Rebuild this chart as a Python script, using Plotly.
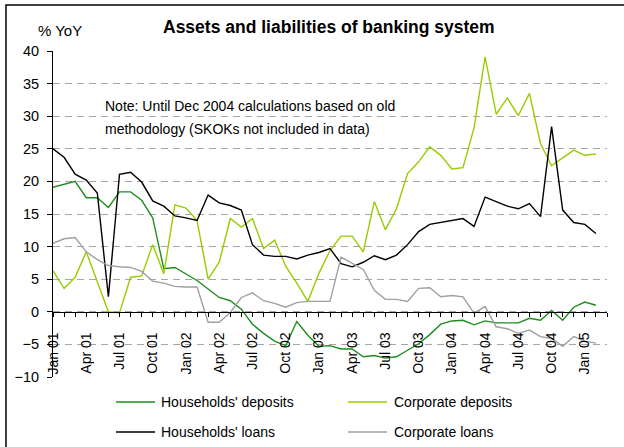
import pandas as pd
import plotly.graph_objects as go

# Monthly observations, Jan 2001 - Feb 2005 (% year on year)
months = list(pd.date_range("2001-01-01", periods=50, freq="MS").strftime("%b %y"))

households_deposits = [
    19.1, 19.5, 20.0, 17.5, 17.5, 16.0, 18.4, 18.4, 17.1, 14.4,
    6.6, 6.8, 5.8, 4.8, 3.5, 2.2, 1.7, 0.4, -1.9, -3.3,
    -4.5, -5.2, -1.5, -3.6, -5.3, -5.2, -5.7, -5.7, -6.9, -6.7,
    -7.1, -6.9, -5.9, -4.9, -3.5, -1.9, -1.4, -1.3, -2.0, -1.4,
    -1.7, -1.7, -1.7, -1.0, -1.3, 0.2, -1.3, 0.7, 1.5, 1.0,
]
corporate_deposits = [
    6.3, 3.6, 5.3, 9.2, 4.6, 0.0, -0.2, 5.3, 5.5, 10.3,
    5.8, 16.4, 15.9, 14.0, 5.0, 7.6, 14.3, 13.0, 14.3, 9.7,
    11.0, 7.0, 4.4, 1.6, 5.9, 9.4, 11.6, 11.6, 9.2, 16.9,
    12.6, 15.8, 21.2, 23.0, 25.3, 24.0, 21.9, 22.1, 28.2, 39.1,
    30.3, 32.8, 30.1, 33.5, 25.8, 22.4, 23.6, 24.8, 24.0, 24.2,
]
households_loans = [
    25.0, 23.7, 21.1, 20.2, 18.2, 2.3, 21.1, 21.4, 19.9, 17.0,
    16.2, 14.7, 14.4, 14.0, 17.9, 16.7, 16.3, 15.6, 10.3, 8.7,
    8.5, 8.5, 8.1, 8.7, 9.1, 9.7, 7.4, 6.9, 7.6, 8.6,
    8.0, 8.7, 10.3, 12.3, 13.4, 13.7, 13.9, 14.3, 13.1, 17.6,
    16.9, 16.2, 15.8, 16.6, 14.6, 28.4, 15.6, 13.7, 13.4, 12.0,
]
corporate_loans = [
    10.5, 11.2, 11.4, 9.2, 8.0, 7.1, 6.9, 6.8, 6.2, 4.7,
    4.4, 3.9, 3.8, 3.8, -1.6, -1.6, -0.1, 2.2, 2.9, 1.7,
    1.3, 0.7, 1.4, 1.6, 1.6, 1.6, 8.4, 7.4, 6.5, 3.3,
    1.9, 1.9, 1.6, 3.6, 3.7, 2.3, 2.5, 2.3, -0.2, 0.8,
    -2.3, -2.6, -3.3, -2.8, -3.8, -4.1, -5.3, -3.8, -4.5, -4.8,
]

series_names = ["Households' deposits", "Corporate deposits", "Households' loans", "Corporate loans"]
series_values = [households_deposits, corporate_deposits, households_loans, corporate_loans]
series_colors = ["#1E8C1E", "#99CC00", "#000000", "#A0A0A0"]

y_ticks = [40, 35, 30, 25, 20, 15, 10, 5, 0, -5, -10]

FONT = "Liberation Sans, Arial, sans-serif"

# pixel geometry of the plotting area
W, H = 624, 447
L, R, T, B = 53, 17, 51, 70
PW, PH = W - L - R, H - T - B


def px(xp):
    return (xp - L) / PW


def py(yp):
    return (H - B - yp) / PH


pos = list(range(len(months)))
fig = go.Figure()
for name, vals, col in zip(series_names, series_values, series_colors):
    fig.add_trace(go.Scatter(
        x=pos, y=vals, name=name, mode="lines",
        line=dict(color=col, width=1.4), showlegend=False,
    ))

tickvals = list(range(len(months) + 1))
ticktext = [months[i] if (i < len(months) and i % 3 == 0) else "" for i in tickvals]

fig.update_layout(
    width=W, height=H,
    margin=dict(l=L, r=R, t=T, b=B),
    paper_bgcolor="white", plot_bgcolor="white",
    font=dict(family=FONT, size=14, color="black"),
    xaxis=dict(
        range=[0, len(months)], anchor="free", position=0.2,
        showline=True, linecolor="black", linewidth=1,
        ticks="outside", ticklen=4, tickcolor="black", tickwidth=1,
        tickmode="array", tickvals=tickvals, ticktext=ticktext,
        tickangle=-90, tickfont=dict(size=14), ticklabelstandoff=10,
        showgrid=False, zeroline=False,
    ),
    yaxis=dict(
        range=[-10, 40], tickmode="array", tickvals=y_ticks,
        showline=True, linecolor="black", linewidth=1,
        ticks="outside", ticklen=5, tickcolor="black",
        tickfont=dict(size=14.5), ticklabelstandoff=5,
        showgrid=True, gridcolor="#A6A6A6", gridwidth=1, griddash="7px,5px",
        zeroline=False,
    ),
)

annotations = [
    dict(text="<b>Assets and liabilities of banking system</b>", x=px(329), y=py(27),
         xanchor="center", yanchor="middle", font=dict(size=17.5)),
    dict(text="% YoY", x=px(36), y=py(31), xanchor="left", yanchor="middle",
         font=dict(size=15)),
    dict(text="Note: Until Dec 2004 calculations based on old", x=px(103), y=py(106),
         xanchor="left", yanchor="middle", font=dict(size=14)),
    dict(text="methodology (SKOKs not included in data)", x=px(103), y=py(129),
         xanchor="left", yanchor="middle", font=dict(size=14)),
]

# two-column key below the axis
shapes = []
key_cols = [(116, 155, 159), (348, 387, 392)]
key_rows = [402, 432]
for k, (name, col) in enumerate(zip(series_names, series_colors)):
    x0, x1, xt = key_cols[k % 2]
    yk = key_rows[k // 2]
    shapes.append(dict(type="line", xref="paper", yref="paper",
                       x0=px(x0), x1=px(x1), y0=py(yk), y1=py(yk),
                       line=dict(color=col, width=1.4)))
    annotations.append(dict(text=name, x=px(xt), y=py(yk), xanchor="left", yanchor="middle",
                            font=dict(size=14)))

# outer frame
shapes.append(dict(type="rect", xref="paper", yref="paper",
                   x0=px(6), x1=px(640), y0=py(460), y1=py(5),
                   line=dict(color="black", width=1.5)))

for a in annotations:
    a.update(xref="paper", yref="paper", showarrow=False)
fig.update_layout(annotations=annotations, shapes=shapes)

fig.write_html("out.html")
